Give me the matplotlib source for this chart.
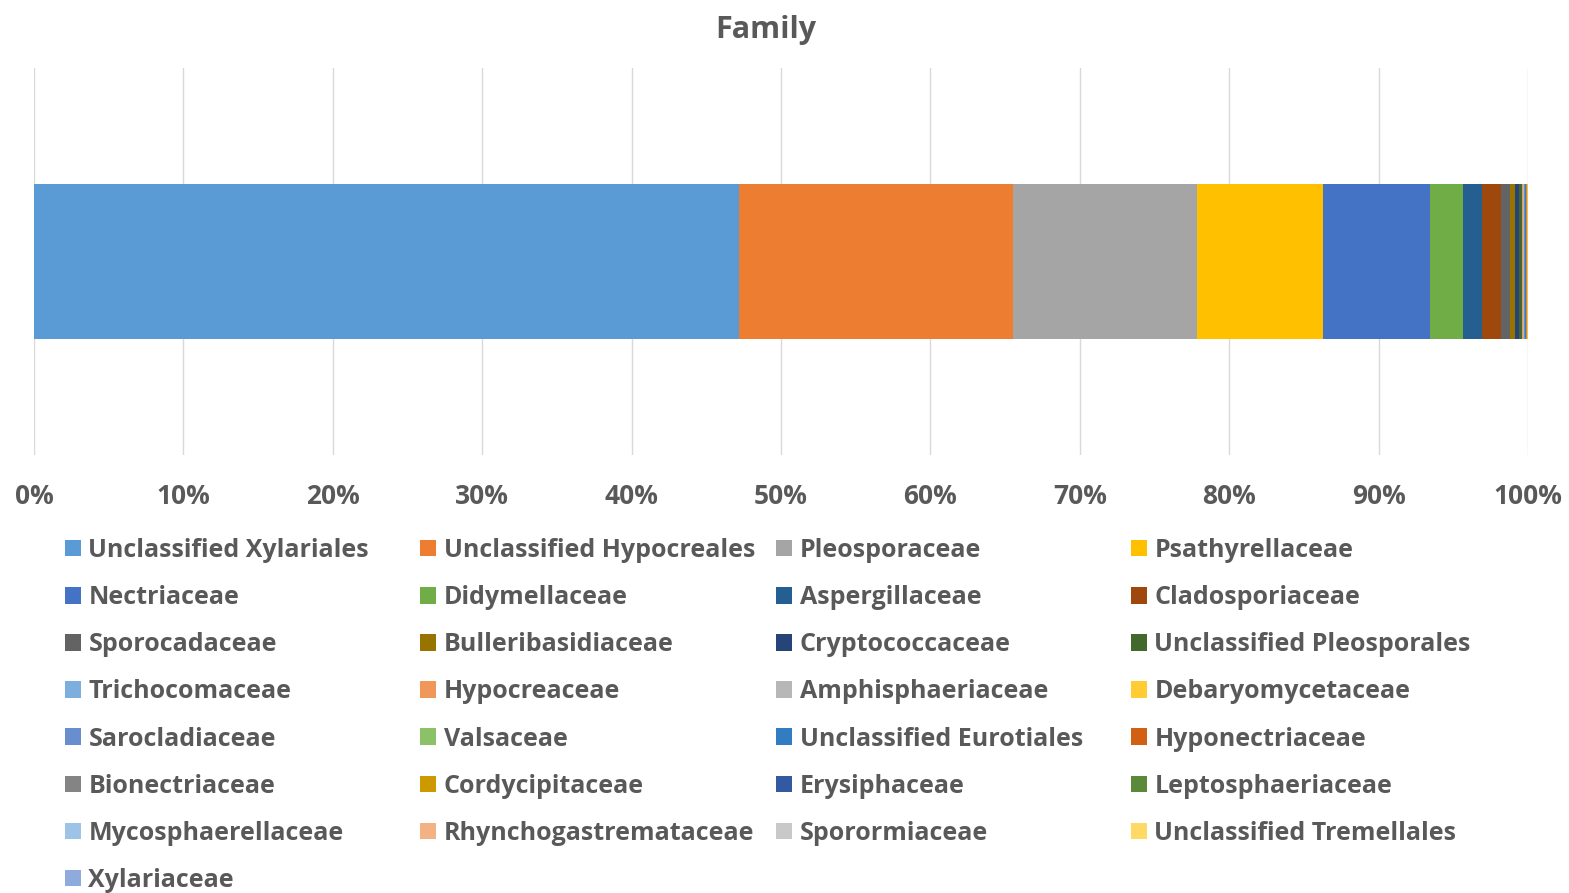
import matplotlib.pyplot as plt

plt.rcParams['font.family'] = ['Open Sans', 'DejaVu Sans']

families = [
    'Unclassified Xylariales', 'Unclassified Hypocreales', 'Pleosporaceae', 'Psathyrellaceae',
    'Nectriaceae', 'Didymellaceae', 'Aspergillaceae', 'Cladosporiaceae',
    'Sporocadaceae', 'Bulleribasidiaceae', 'Cryptococcaceae', 'Unclassified Pleosporales',
    'Trichocomaceae', 'Hypocreaceae', 'Amphisphaeriaceae', 'Debaryomycetaceae',
    'Sarocladiaceae', 'Valsaceae', 'Unclassified Eurotiales', 'Hyponectriaceae',
    'Bionectriaceae', 'Cordycipitaceae', 'Erysiphaceae', 'Leptosphaeriaceae',
    'Mycosphaerellaceae', 'Rhynchogastremataceae', 'Sporormiaceae', 'Unclassified Tremellales',
    'Xylariaceae',
]

# relative abundance (%)
share = [
    47.19, 18.34, 12.31, 8.43,
    7.16, 2.21, 1.27, 1.29,
    0.58, 0.36, 0.25, 0.18,
    0.06, 0.05, 0.04, 0.04,
    0.03, 0.03, 0.03, 0.025,
    0.02, 0.02, 0.02, 0.015,
    0.015, 0.01, 0.01, 0.01,
    0.01,
]

colors = [
    '#5B9BD5', '#ED7D31', '#A5A5A5', '#FFC000',
    '#4472C4', '#70AD47', '#255E91', '#9E480E',
    '#636363', '#997300', '#264478', '#43682B',
    '#7CAFDD', '#F1975A', '#B7B7B7', '#FFCD33',
    '#698ED0', '#8CC168', '#327DC2', '#D26012',
    '#848484', '#CC9A00', '#335AA1', '#5A8A39',
    '#9DC3E6', '#F4B183', '#C9C9C9', '#FFD966',
    '#8FAADC',
]

txt = '#595959'

fig = plt.figure(figsize=(15.69, 8.93), dpi=100)
ax = fig.add_axes([34 / 1569, 1 - 455 / 893, 1494 / 1569, 387 / 893])

total = sum(share)
left = 0
bars = []
for name, val, col in zip(families, share, colors):
    b = ax.barh(0, val / total * 100, left=left, height=0.4, color=col, label=name)
    bars.append(b)
    left += val / total * 100

ax.set_xlim(0, 100)
ax.set_ylim(-0.5, 0.5)
ax.set_xticks(range(0, 101, 10))
ax.set_xticklabels([f'{v}%' for v in range(0, 101, 10)])
ax.set_yticks([])
ax.grid(axis='x', color='#D9D9D9', linewidth=1)
ax.set_axisbelow(True)
for s in ax.spines.values():
    s.set_visible(False)
ax.tick_params(axis='x', length=0, pad=20, labelsize=19, labelcolor=txt)
for lab in ax.get_xticklabels():
    lab.set_fontweight('bold')

fig.text(766 / 1569, 1 - 30 / 893, 'Family', ha='center', va='center',
         fontsize=22, fontweight='bold', color=txt)

col_x = [65, 420, 776, 1131]
for c in range(4):
    hs = [bars[i] for i in range(c, len(families), 4)]
    ls = [families[i] for i in range(c, len(families), 4)]
    leg = fig.legend(hs, ls, loc='upper left', bbox_to_anchor=(col_x[c] / 1569, 1 - 538 / 893),
                     frameon=False, fontsize=18, handlelength=0.64, handleheight=0.64,
                     handletextpad=0.3, labelspacing=0.885, borderaxespad=0, borderpad=0)
    for t in leg.get_texts():
        t.set_color(txt)
        t.set_fontweight('bold')

fig.savefig('out.png', dpi=100)
